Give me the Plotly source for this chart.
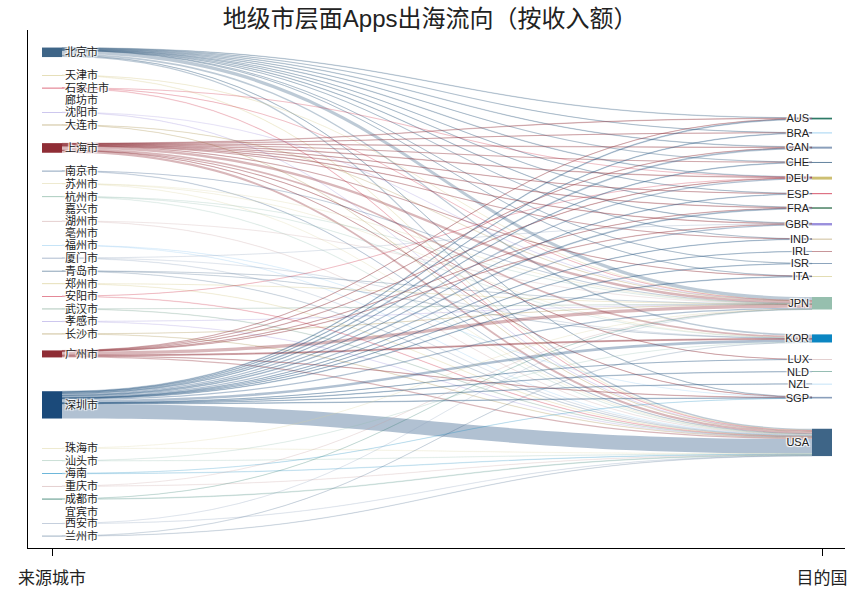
import plotly.graph_objects as go

# ---------------- data ----------------
cities = ["北京市", "天津市", "石家庄市", "廊坊市", "沈阳市", "大连市", "上海市", "南京市",
          "苏州市", "杭州市", "嘉兴市", "湖州市", "亳州市", "福州市", "厦门市", "青岛市",
          "郑州市", "安阳市", "武汉市", "孝感市", "长沙市", "广州市", "深圳市", "珠海市",
          "汕头市", "海南", "重庆市", "成都市", "宜宾市", "西安市", "兰州市"]
countries = ["AUS", "BRA", "CAN", "CHE", "DEU", "ESP", "FRA", "GBR", "IND", "IRL",
             "ISR", "ITA", "JPN", "KOR", "LUX", "NLD", "NZL", "SGP", "USA"]

flow_city = (
    ["北京市"] * 15 + ["天津市"] * 2 + ["石家庄市"] * 3 + ["廊坊市"] + ["沈阳市"] * 2 + ["大连市"] * 2
    + ["上海市"] * 15 + ["南京市"] * 2 + ["苏州市"] * 3 + ["杭州市"] * 3 + ["嘉兴市"] + ["湖州市"] * 2
    + ["亳州市"] + ["福州市"] * 2 + ["厦门市"] * 3 + ["青岛市"] * 3 + ["郑州市"] * 2 + ["安阳市"] * 2
    + ["武汉市"] * 2 + ["孝感市"] * 2 + ["长沙市"] * 2 + ["广州市"] * 9 + ["深圳市"] * 19
    + ["珠海市"] * 2 + ["汕头市"] * 2 + ["海南"] * 2 + ["重庆市"] * 2 + ["成都市"] * 2 + ["宜宾市"]
    + ["西安市"] * 2 + ["兰州市"] * 2
)
flow_country = (
    ["JPN", "KOR", "USA", "DEU", "AUS", "CAN", "GBR", "FRA", "BRA", "CHE", "SGP", "ESP", "IND", "ISR", "ITA"]
    + ["USA", "JPN"] + ["USA", "JPN", "DEU"] + ["USA"] + ["USA", "JPN"] + ["JPN", "USA"]
    + ["JPN", "USA", "KOR", "CAN", "DEU", "AUS", "FRA", "GBR", "ESP", "ITA", "SGP", "BRA", "CHE", "IND", "LUX"]
    + ["USA", "JPN"] + ["USA", "JPN", "KOR"] + ["USA", "JPN", "KOR"] + ["USA"] + ["USA", "JPN"]
    + ["USA"] + ["USA", "SGP"] + ["USA", "KOR", "GBR"] + ["USA", "KOR", "JPN"] + ["USA", "JPN"] + ["USA", "DEU"]
    + ["USA", "JPN"] + ["USA", "JPN"] + ["USA", "JPN"]
    + ["JPN", "USA", "KOR", "DEU", "GBR", "SGP", "AUS", "CAN", "FRA"]
    + ["USA", "KOR", "JPN", "DEU", "GBR", "CAN", "FRA", "AUS", "BRA", "CHE", "ITA", "SGP", "ESP", "NLD",
       "IND", "ISR", "NZL", "IRL", "LUX"]
    + ["USA", "JPN"] + ["USA", "KOR"] + ["USA", "SGP"] + ["USA", "JPN"] + ["USA", "JPN"] + ["USA"]
    + ["USA", "JPN"] + ["USA", "KOR"]
)
flow_value = (
    [3.5, 1.6, 1.4, 0.5, 0.4, 0.4, 0.4, 0.3, 0.2, 0.2, 0.2, 0.1, 0.1, 0.1, 0.1]
    + [0.4, 0.1] + [0.4, 0.1, 0.1] + [0.03] + [0.3, 0.2] + [0.2, 0.2]
    + [2.4, 2.2, 1.8, 0.5, 0.5, 0.4, 0.4, 0.4, 0.2, 0.2, 0.2, 0.1, 0.1, 0.1, 0.1]
    + [0.4, 0.1] + [0.3, 0.1, 0.1] + [0.4, 0.2, 0.2] + [0.03] + [0.3, 0.1]
    + [0.03] + [0.3, 0.2] + [0.4, 0.2, 0.1] + [0.3, 0.2, 0.1] + [0.3, 0.1] + [0.4, 0.1]
    + [0.4, 0.1] + [0.3, 0.1] + [0.3, 0.1]
    + [3.3, 1.2, 1.0, 0.3, 0.3, 0.3, 0.2, 0.2, 0.2]
    + [14.5, 2.6, 1.2, 1.4, 1.2, 0.9, 0.8, 0.7, 0.5, 0.5, 0.5, 0.5, 0.4, 0.4, 0.3, 0.3, 0.3, 0.2, 0.1]
    + [0.3, 0.1] + [0.3, 0.2] + [0.4, 0.2] + [0.3, 0.1] + [0.6, 0.2] + [0.03]
    + [0.3, 0.1] + [0.3, 0.2]
)

axis_labels = ["来源城市", "目的国"]
title_text = "地级市层面Apps出海流向（按收入额）"

# ---------------- styles ----------------
NONE = "rgba(0,0,0,0)"
city_colors = ["#3e6587", "#cdbf72", "#c8102e", NONE, "#9a8fdc", "#9c7f34", "#8f2d35", "#1b4a7a",
               "#dcd5a0", "#96bfae", NONE, "#c9a0a0", NONE, "#8cc8ee", "#8a9fbb", "#3e6587",
               "#cdbf72", "#c8102e", "#5f9076", "#9a8fdc", "#9c7f34", "#8f2d35", "#1b4a7a", "#dcd5a0",
               "#96bfae", "#0b86c2", "#c9a0a0", "#2d7a67", NONE, "#8a9fbb", "#3e6587"]
country_colors = ["#2d7a67", "#8cc8ee", "#8a9fbb", "#3e6587", "#cdbf72", "#c8102e", "#5f9076",
                  "#9a8fdc", "#9c7f34", "#8f2d35", "#1b4a7a", "#dcd5a0", "#96bfae", "#0b86c2",
                  "#c9a0a0", "#2d7a67", "#8cc8ee", "#8a9fbb", "#3e6587"]
FONT = "Liberation Sans, Noto Sans CJK SC, sans-serif"


def rgba(hex_color, a):
    h = hex_color.lstrip("#")
    r, g, b = int(h[0:2], 16), int(h[2:4], 16), int(h[4:6], 16)
    return f"rgba({r},{g},{b},{a})"


labels = cities + countries
node_colors = city_colors + country_colors
idx = {name: i for i, name in enumerate(labels)}
src = [idx[c] for c in flow_city]
tgt = [idx[k] for k in flow_country]

node_val = [0.0] * len(labels)
for s, t, v in zip(src, tgt, flow_value):
    node_val[s] += v
    node_val[t] += v
total = sum(flow_value)

# ---------------- geometry ----------------
M_L, M_R, M_T, M_B = 28, 12, 30, 43
W, H = 857, 591
plot_w = W - M_L - M_R
dom_h = H - M_T - M_B
left_c, right_c = 52, 822          # node centre columns (px)
GAP = 11.5                         # px between node slots
SLOT = 2.3                         # slot height per value unit

# plotly caps node padding at 2/3*h/(n-1); an invisible spacer node pair absorbs the
# remaining height so that one value unit equals one pixel.
n_col = len(cities) + 1
node_pad = 2 / 3 * dom_h / (n_col - 1) - 1e-6
spacer = dom_h - (n_col - 1) * node_pad - total


def column_y(vals, mid):
    blocks = [SLOT * v + GAP for v in vals]
    acc = dom_h * mid - sum(blocks) / 2
    ys = []
    for b in blocks:
        ys.append((acc + b / 2) / dom_h)
        acc += b
    return ys


node_y = (column_y(node_val[:len(cities)], 0.5)
          + column_y(node_val[len(cities):], 0.512) + [0.5, 0.5])
node_x = [1e-6] * len(cities) + [1.0] * len(countries) + [1e-6, 1.0]
all_labels = labels + ["", ""]
all_colors = node_colors + [NONE, NONE]

link_src = src + [len(labels)]
link_tgt = tgt + [len(labels) + 1]
link_val = flow_value + [spacer]


def link_color(s, v):
    c = node_colors[s]
    if c == NONE:
        return NONE
    if node_val[s] <= 3:
        return rgba(c, 0.14)
    return rgba(c, 0.34 if v >= 1 else 0.24)


link_fill = [link_color(s, v) for s, v in zip(src, flow_value)] + [NONE]

fig = go.Figure()
fig.add_trace(go.Sankey(
    arrangement="fixed",
    domain=dict(x=[(left_c - M_L) / plot_w, (right_c - M_L) / plot_w], y=[0, 1]),
    node=dict(label=all_labels, x=node_x, y=node_y, pad=node_pad, thickness=20,
              color=all_colors, line=dict(width=0)),
    link=dict(source=link_src, target=link_tgt, value=link_val, color=link_fill,
              line=dict(width=0)),
    textfont=dict(family=FONT, size=11, color="#222222"),
    hoverinfo="none",
))
fig.add_trace(go.Scatter(x=[], y=[], showlegend=False, hoverinfo="skip"))

span = right_c - left_c
fig.update_layout(
    width=W, height=H,
    margin=dict(l=M_L, r=M_R, t=M_T, b=M_B, autoexpand=False),
    paper_bgcolor="white", plot_bgcolor="white",
    title=dict(text=title_text, x=0.502, xref="container", y=1 - 19 / H, yref="container",
               yanchor="middle", xanchor="center", automargin=False,
               font=dict(family=FONT, size=24, color="#222222")),
    xaxis=dict(range=[(M_L - left_c) / span, (W - M_R - left_c) / span], automargin=False,
               tickvals=[0, 1], ticktext=axis_labels, showline=True, linecolor="black",
               linewidth=1, ticks="outside", ticklen=7, tickcolor="black", showgrid=False,
               zeroline=False, tickfont=dict(family=FONT, size=17, color="#222222"),
               ticklabelstandoff=8),
    yaxis=dict(range=[0, 1], showline=True, linecolor="black", linewidth=1, automargin=False,
               showticklabels=False, ticks="", showgrid=False, zeroline=False),
    showlegend=False,
)
fig.write_html("out.html", config={"displayModeBar": False},
               post_script="document.body.style.margin='0';document.body.style.padding='0';")
